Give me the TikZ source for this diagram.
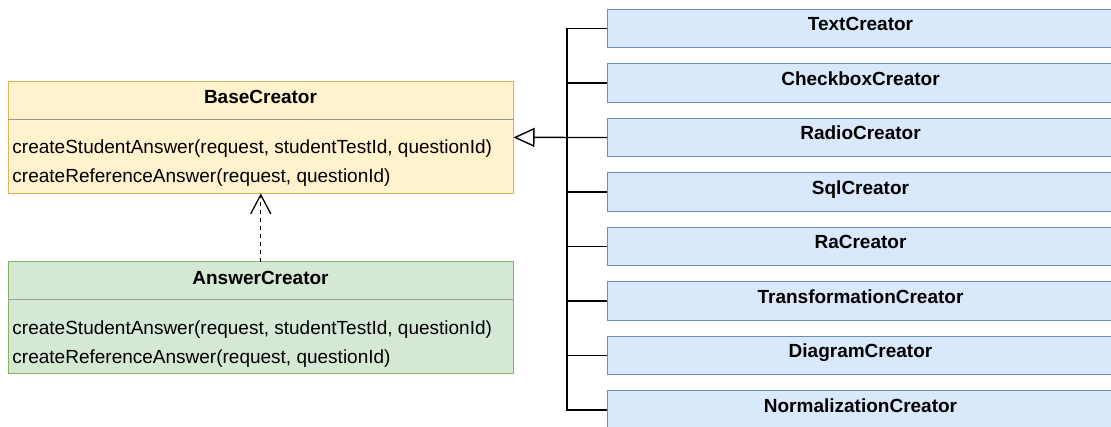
\documentclass[tikz,border=0pt]{standalone}
\usepackage{fontspec}
\setmainfont{Liberation Sans}
\usetikzlibrary{arrows.meta,calc}
\definecolor{yfill}{HTML}{FFF2CC}
\definecolor{ydraw}{HTML}{D6B656}
\definecolor{gfill}{HTML}{D5E8D4}
\definecolor{gdraw}{HTML}{82B366}
\definecolor{bfill}{HTML}{DAE8FC}
\definecolor{bdraw}{HTML}{6C8EBF}
\definecolor{sepgray}{HTML}{999999}
\begin{document}
\begin{tikzpicture}[x=1pt,y=-1pt,
  classbox/.style={draw=ydraw,fill=yfill,line width=1pt,minimum width=505.5pt,minimum height=112pt,inner sep=0pt,outer sep=0pt},
  subbox/.style={draw=bdraw,fill=bfill,line width=1pt,minimum width=507pt,minimum height=38.4pt,inner sep=0pt,outer sep=0pt},
  hdr/.style={font=\fontsize{19}{22}\selectfont\bfseries,inner sep=0pt,anchor=base},
  meth/.style={font=\fontsize{19}{22}\selectfont,inner sep=0pt,anchor=base west},
  sep/.style={draw=sepgray,line width=1.3pt},
  conn/.style={draw=black,line width=1.4pt},
  inh/.style={conn,-{Triangle[open,length=21pt,width=19pt,line width=1.4pt,fill=white]}},
  real/.style={conn,dash pattern=on 4pt off 4pt,-{Straight Barb[length=19pt,width=20pt,line width=1.3pt]}}
]
\useasboundingbox (0,0) rectangle (1111,427);
\fill[white] (0,0) rectangle (1111,427);

% BaseCreator
\node[classbox] (base) at (260.75,137.4) {};
\draw[sep] (base.west |- 0,119.3) -- (base.east |- 0,119.3);
\node[hdr] (basehdr) at (260.5,104) {BaseCreator};
\node[meth] (basem1) at (12.3,154) {createStudentAnswer(request, studentTestId, questionId)};
\node[meth] (basem2) at (12.3,182.8) {createReferenceAnswer(request, questionId)};

% AnswerCreator
\node[classbox,draw=gdraw,fill=gfill] (ans) at (260.75,317.8) {};
\draw[sep] (ans.west |- 0,299.7) -- (ans.east |- 0,299.7);
\node[hdr] (anshdr) at (260.5,284.4) {AnswerCreator};
\node[meth] (ansm1) at (12.3,334.4) {createStudentAnswer(request, studentTestId, questionId)};
\node[meth] (ansm2) at (12.3,363.2) {createReferenceAnswer(request, questionId)};

% Subclasses
\coordinate (busx) at (567,0);
\foreach \i/\nm/\txt in {0/text/TextCreator,1/check/CheckboxCreator,2/radio/RadioCreator,3/sql/SqlCreator,4/ra/RaCreator,5/trans/TransformationCreator,6/diag/DiagramCreator,7/norm/NormalizationCreator}{
  \node[subbox] (\nm) at (860.5,{28.5+54.5*\i}) {};
  \node[hdr] (\nm lbl) at ($(\nm.north)+(0,21.4)$) {\txt};
}

% connectors
\draw[conn] (text.west) -- (text.west -| busx) -- (norm.west -| busx) -- (norm.west);
\foreach \nm in {check,sql,ra,trans,diag}{
  \draw[conn] (\nm.west) -- (\nm.west -| busx);
}
\draw[inh] (radio.west) -- (base.east);
\draw[real] (ans.north) -- (base.south);
\end{tikzpicture}
\end{document}
